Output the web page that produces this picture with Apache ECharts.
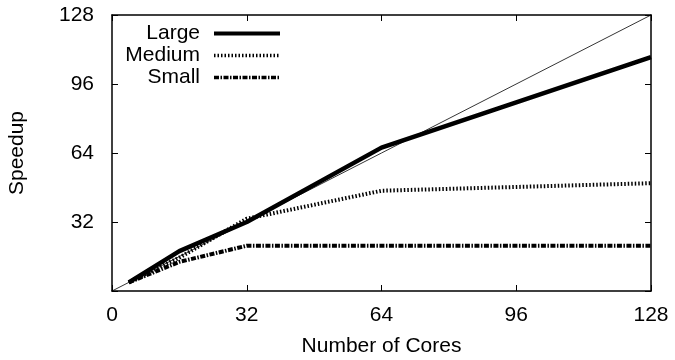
<!DOCTYPE html>
<html>
<head>
<meta charset="utf-8">
<script src="https://cdn.jsdelivr.net/npm/echarts@6/dist/echarts.min.js"></script>
<style>
  html, body { margin: 0; padding: 0; background: #fff; }
  #main { width: 675px; height: 360px; }
</style>
</head>
<body>
<div id="main"></div>
<script>
// speedup vs number of cores
var cores = [4, 16, 32, 64, 128];
var large = [4, 18.5, 32, 66.5, 108.5];
var medium = [4, 15.5, 33.5, 46.5, 50];
var small = [4, 13.5, 21, 21, 21];
var ideal = [[0, 0], [128, 128]];
var xTicks = [0, 32, 64, 96, 128];

var chart = echarts.init(document.getElementById('main'));

function pairs(ys) {
    return cores.map(function (c, i) { return [c, ys[i]]; });
}

var font = 'Liberation Sans, Arial, sans-serif';
var black = '#000';

var axisBase = {
    min: 0,
    max: 128,
    interval: 32,
    axisLine: { show: true, onZero: false, lineStyle: { color: black, width: 1.5 } },
    axisTick: { show: true, inside: true, length: 6, lineStyle: { color: black } },
    splitLine: { show: false }
};

option = {
    backgroundColor: '#fff',
    animation: false,
    textStyle: { fontFamily: font },
    grid: {
        left: 112,
        right: 24,
        top: 15,
        bottom: 69,
        containLabel: false,
        outerBoundsMode: 'none'
    },
    legend: {
        right: 393,
        top: 23,
        padding: 0,
        orient: 'vertical',
        align: 'right',
        itemWidth: 66,
        itemHeight: 14,
        itemGap: 1,
        itemStyle: { opacity: 0 },
        textStyle: { fontSize: 21, lineHeight: 20, color: black, fontFamily: font, padding: [0, 9, 0, 0] },
        data: [
            { name: 'Large', lineStyle: { width: 4 } },
            { name: 'Medium', lineStyle: { width: 3.5 } },
            { name: 'Small', lineStyle: { width: 3.5 } }
        ]
    },
    xAxis: [
        Object.assign({}, axisBase, {
            type: 'value',
            position: 'bottom',
            name: 'Number of Cores',
            nameLocation: 'middle',
            nameGap: 45,
            nameTextStyle: { fontSize: 21, color: black },
            axisLabel: { fontSize: 21, color: black, margin: 14,
                formatter: function (v) { return xTicks.indexOf(v) >= 0 ? String(v) : ''; } }
        }),
        Object.assign({}, axisBase, {
            type: 'value',
            position: 'top',
            axisLabel: { show: false }
        })
    ],
    yAxis: [
        Object.assign({}, axisBase, {
            type: 'value',
            position: 'left',
            name: 'Speedup',
            nameLocation: 'middle',
            nameGap: 84,
            nameTextStyle: { fontSize: 21, color: black },
            axisLabel: { fontSize: 21, color: black, margin: 18,
                formatter: function (v) { return v === 0 ? '' : String(v); } }
        }),
        Object.assign({}, axisBase, {
            type: 'value',
            position: 'right',
            axisLabel: { show: false }
        })
    ],
    series: [
        {
            name: 'ideal',
            type: 'line',
            data: ideal,
            symbol: 'none',
            lineStyle: { color: black, width: 0.8 },
            z: 1
        },
        {
            name: 'Large',
            type: 'line',
            data: pairs(large),
            symbol: 'none',
            itemStyle: { color: black },
            lineStyle: { color: black, width: 4.5 }
        },
        {
            name: 'Medium',
            type: 'line',
            data: pairs(medium),
            symbol: 'none',
            itemStyle: { color: black },
            lineStyle: { color: black, width: 4, type: [1.5, 2] }
        },
        {
            name: 'Small',
            type: 'line',
            data: pairs(small),
            symbol: 'none',
            itemStyle: { color: black },
            lineStyle: { color: black, width: 4, type: [5, 1.5, 1.5, 1.5] }
        }
    ]
};

chart.setOption(option);
</script>
</body>
</html>
